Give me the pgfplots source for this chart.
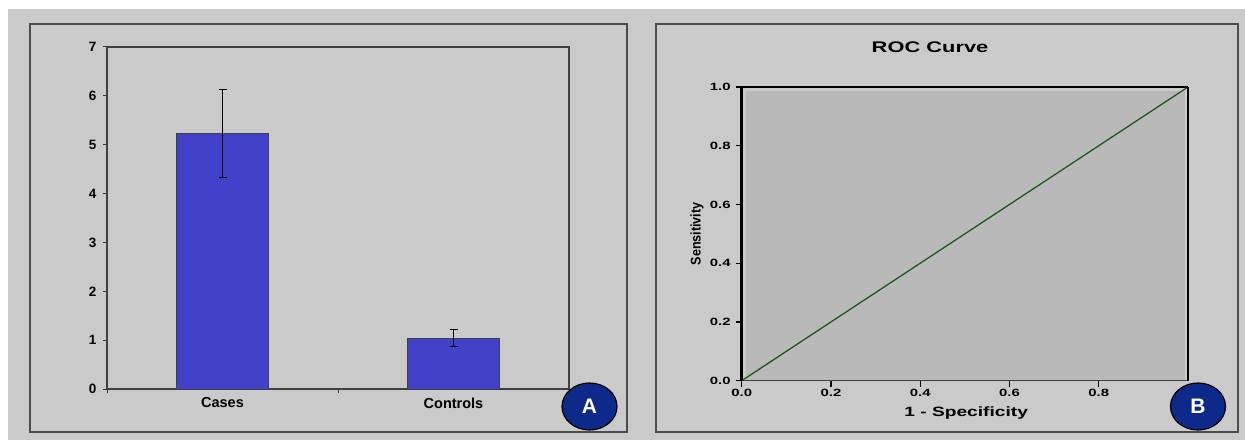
\documentclass[border=0pt]{standalone}
\usepackage{pgfplots}
\pgfplotsset{compat=1.18}
\usepackage{fontspec}
\setmainfont{Liberation Sans}
\newfontfamily\widefont[FakeStretch=1.42]{Liberation Sans}
\newfontfamily\narrowfont[FakeStretch=0.9]{Liberation Sans}
\definecolor{bg}{HTML}{CACACA}
\definecolor{innerbg}{HTML}{B9B9B9}
\definecolor{barblue}{HTML}{4141C9}
\definecolor{navy}{HTML}{0D2A8A}
\definecolor{roc}{HTML}{1C5A1C}
\begin{document}
\begin{tikzpicture}[x=1pt,y=1pt]
\useasboundingbox (0,0) rectangle (1245,440);
\fill[white] (0,0) rectangle (1245,440);
\fill[bg] (8,0) rectangle (1245,431);
\draw[line width=1.3pt, black!70] (30,8) rectangle (627,416);
\draw[line width=1.3pt, black!70] (656,8) rectangle (1238,416);

% ---------- Panel A ----------
\begin{axis}[at={(107pt,51pt)}, anchor=south west, scale only axis,
  width=462pt, height=342pt,
  xmin=-0.5, xmax=1.5, ymin=0, ymax=7,
  ytick={0,1,...,7},
  xtick={-0.5,0.5,1.5}, xticklabels={},
  extra x ticks={0,1}, extra x tick labels={Cases,Controls},
  extra x tick style={major tick length=0pt, xticklabel style={yshift=-5pt}},
  tick pos=left, tick align=outside, major tick length=4pt,
  tick style={line width=1pt, black!80},
  axis line style={line width=1.3pt, black!75},
  /pgf/number format/assume math mode=true,
  yticklabel style={font=\fontsize{13.5}{15}\selectfont\bfseries, xshift=-3pt},
  xticklabel style={font=\fontsize{14.5}{16}\selectfont\bfseries},
  ybar, bar width=92pt,
]
\addplot[fill=barblue, draw=black!75, line width=1pt,
  error bars/.cd, y dir=both, y explicit,
  error bar style={line width=1pt, black},
  error mark options={rotate=90, mark size=4pt, line width=1pt, black}]
  coordinates {(0,5.23) +- (0,0.905) (1,1.04) +- (0,0.17)};
\end{axis}

% ---------- Panel B ----------
\begin{axis}[at={(741.7pt,59.3pt)}, anchor=south west, scale only axis,
  width=446.3pt, height=293.7pt,
  xmin=0, xmax=1, ymin=0, ymax=1,
  xtick={0,0.2,0.4,0.6,0.8}, ytick={0,0.2,0.4,0.6,0.8,1},
  tick pos=left, tick align=outside, major tick length=6pt,
  tick style={line width=1.2pt, black},
  axis line style={draw=none},
  /pgf/number format/.cd, fixed, fixed zerofill, precision=1, assume math mode=true,
  /pgfplots/.cd,
  ticklabel style={font=\fontsize{10.5}{12}\selectfont\widefont\bfseries},
  yticklabel style={xshift=-1.5pt},
  xticklabel style={yshift=1pt},
  title={ROC Curve},
  title style={at={(axis description cs:0.422,1.116)}, anchor=center,
    font=\fontsize{15.4}{17}\selectfont\widefont\bfseries},
  xlabel={1 - Specificity},
  xlabel style={at={(axis description cs:0.503,-0.109)}, anchor=center,
    font=\fontsize{13.5}{15}\selectfont\widefont\bfseries},
  ylabel={Sensitivity},
  ylabel style={at={(axis description cs:-0.100,0.5)}, anchor=center,
    font=\fontsize{14}{16}\selectfont\narrowfont\bfseries},
  clip=false,
]
\fill[innerbg] (axis cs:0.01,0) rectangle (axis cs:0.994,0.985);
\addplot[roc, line width=1.3pt] coordinates {(0,0) (1,1)};
\draw[line width=1pt, black!75] (axis description cs:0,0) -- (axis description cs:1,0);
\draw[line width=1.6pt, black] (axis description cs:1,0) -- (axis description cs:1,1);
\draw[line width=1.8pt, black] (axis description cs:0,1) -- (axis description cs:1,1);
\draw[line width=3pt, black] (axis description cs:0,0) -- (axis description cs:0,1);
\end{axis}

% ---------- Labels A and B ----------
\draw[fill=navy, draw=black, line width=1.2pt] (589.5,33.5) ellipse [x radius=27.5, y radius=23.5];
\node[text=white, font=\fontsize{21}{23}\selectfont\bfseries] at (589.5,33.5) {A};
\draw[fill=navy, draw=black, line width=1.2pt] (1198,33.5) ellipse [x radius=27.5, y radius=23.5];
\node[text=white, font=\fontsize{21}{23}\selectfont\bfseries] at (1198,33.5) {B};
\end{tikzpicture}
\end{document}
